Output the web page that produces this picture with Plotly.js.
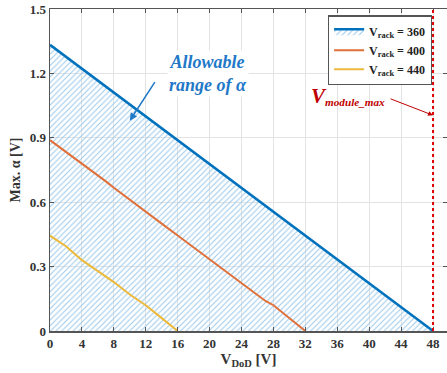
<!DOCTYPE html>
<html>
<head>
<meta charset="utf-8">
<script src="https://cdn.plot.ly/plotly-3.0.1.min.js"></script>
<style>html,body{margin:0;padding:0;overflow:hidden;background:#fff}</style>
</head>
<body>
<div id="chart" style="width:447px;height:373px"></div>
<script>
// Data
const vdod360 = [0, 4, 8, 12, 16, 20, 24, 28, 32, 36, 40, 44, 48];
const alpha360 = [1.333, 1.222, 1.111, 1.0, 0.889, 0.778, 0.667, 0.556, 0.444, 0.333, 0.222, 0.111, 0];
const vdod400 = [0, 2, 4, 6, 7, 8, 10, 12, 14, 16, 18, 20, 22, 24, 26, 27, 28, 30, 32];
const alpha400 = [0.889, 0.835, 0.78, 0.725, 0.697, 0.667, 0.61, 0.555, 0.50, 0.445, 0.39, 0.335, 0.28, 0.225, 0.17, 0.14, 0.12, 0.06, 0];
const vdod440 = [0, 2, 4, 6, 8, 10, 12, 14, 16];
const alpha440 = [0.444, 0.395, 0.33, 0.28, 0.228, 0.17, 0.12, 0.06, 0];
const seriesNames = ['V<sub>rack</sub> = 360', 'V<sub>rack</sub> = 400', 'V<sub>rack</sub> = 440'];
const xTicks = [0, 4, 8, 12, 16, 20, 24, 28, 32, 36, 40, 44, 48];
const yTicks = [0, 0.3, 0.6, 0.9, 1.2, 1.5];
const vModuleMax = 48;

const serif = 'Liberation Serif, Times New Roman, serif';

const traces = [
  {
    x: vdod360, y: alpha360, name: seriesNames[0], mode: 'lines',
    line: {color: '#0072BD', width: 2.5},
    fill: 'tozeroy', fillcolor: 'rgba(0,0,0,0)',
    fillpattern: {shape: '/', fgcolor: '#9cc8ea', bgcolor: 'rgba(255,255,255,0)', size: 4, solidity: 0.25}
  },
  {
    x: vdod400, y: alpha400, name: seriesNames[1], mode: 'lines',
    line: {color: '#E0703A', width: 2}
  },
  {
    x: vdod440, y: alpha440, name: seriesNames[2], mode: 'lines',
    line: {color: '#EDB93A', width: 2}
  }
];

const layout = {
  width: 447, height: 373,
  margin: {l: 50, r: 0, t: 9, b: 42},
  paper_bgcolor: '#fff', plot_bgcolor: '#fff',
  font: {family: serif, size: 13, color: '#333'},
  showlegend: true,
  legend: {
    x: 0.70, y: 0.98, xanchor: 'left', yanchor: 'top',
    bgcolor: '#fff', bordercolor: '#555', borderwidth: 1.2,
    font: {family: serif, size: 12, color: '#222', weight: 'bold'},
    tracegroupgap: 0, itemwidth: 30
  },
  xaxis: {
    range: [0, 49.75], tickvals: xTicks, ticktext: xTicks.map(String),
    showgrid: true, gridcolor: '#e3e3e3', gridwidth: 1,
    showline: true, linecolor: '#555', linewidth: 1.5, mirror: 'ticks',
    ticks: 'inside', ticklen: 4, tickcolor: '#555',
    zeroline: false,
    tickfont: {family: serif, size: 13, color: '#333', weight: 'bold'},
    title: {text: 'V<sub>DoD</sub> [V]', font: {family: serif, size: 15, color: '#333', weight: 'bold'}, standoff: 1}
  },
  yaxis: {
    range: [0, 1.5], tickvals: yTicks, ticktext: ['0', '0.3', '0.6', '0.9', '1.2', '1.5'],
    showgrid: true, gridcolor: '#e3e3e3', gridwidth: 1,
    showline: true, linecolor: '#555', linewidth: 1.5, mirror: 'ticks',
    ticks: 'inside', ticklen: 4, tickcolor: '#555',
    zeroline: false,
    tickfont: {family: serif, size: 13, color: '#333', weight: 'bold'},
    title: {text: 'Max. α [V]', font: {family: serif, size: 14, color: '#333', weight: 'bold'}, standoff: 6}
  },
  shapes: [
    {type: 'line', xref: 'x', yref: 'y', x0: vModuleMax, x1: vModuleMax, y0: 0, y1: 1.5,
     line: {color: '#e00000', width: 2, dash: 'dot'}}
  ],
  annotations: [
    {xref: 'x', yref: 'y', x: 19.8, y: 1.20, showarrow: false,
     text: '<b><i>Allowable<br>range of α</i></b>', align: 'center',
     font: {family: serif, size: 18, color: '#1f78c8'}, bgcolor: '#fff'},
    {xref: 'x', yref: 'y', x: 10.0, y: 0.98, showarrow: true, text: '',
     ax: 26, ay: -40, arrowhead: 2, arrowsize: 1, arrowwidth: 1.5, arrowcolor: '#1f78c8'},
    {xref: 'x', yref: 'y', x: 37.3, y: 1.095, showarrow: false,
     text: '<b><i><span style="font-size:21px">V</span><sub>module_max</sub></i></b>',
     font: {family: serif, size: 16, color: '#c00000'}},
    {xref: 'x', yref: 'y', x: 48, y: 1.005, showarrow: true, text: '',
     ax: -44, ay: -17, arrowhead: 2, arrowsize: 1, arrowwidth: 1, arrowcolor: '#c00000'}
  ]
};

Plotly.newPlot('chart', traces, layout, {displayModeBar: false, staticPlot: true});
</script>
</body>
</html>
